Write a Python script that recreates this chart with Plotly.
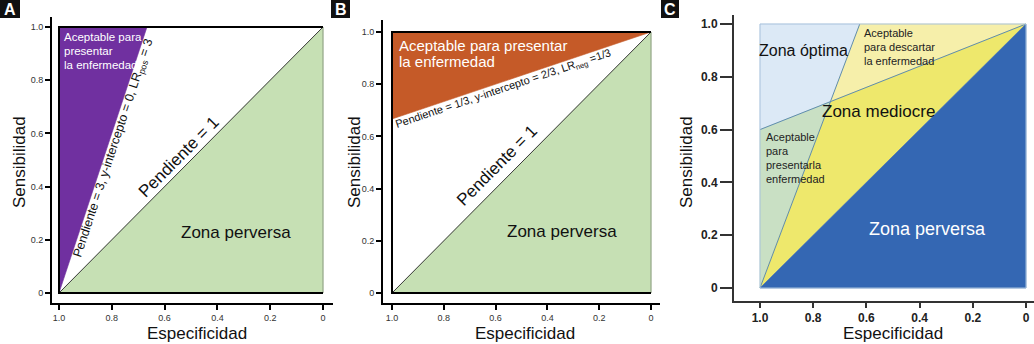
import plotly.graph_objects as go

W, H = 1034, 344
FONT = "Liberation Sans, Arial, sans-serif"

# ---------------- data ----------------
spec_ticks = [1.0, 0.8, 0.6, 0.4, 0.2, 0.0]
spec_tick_text = ["1.0", "0.8", "0.6", "0.4", "0.2", "0"]
sens_ticks = [0.0, 0.2, 0.4, 0.6, 0.8, 1.0]
sens_tick_text = ["0", "0.2", "0.4", "0.6", "0.8", "1.0"]

# diagonal (pendiente = 1) and lower "zona perversa"
diag_spec = [1.0, 0.0]
diag_sens = [0.0, 1.0]
perversa_spec = [1.0, 0.0, 0.0]
perversa_sens = [0.0, 0.0, 1.0]
box_spec = [0.0, 1.0, 1.0, 0.0]
box_sens = [1.0, 1.0, 0.0, 0.0]

# Panel A: LR+ = 3 region
a_accept_spec = [1.0, 1.0, 2 / 3]
a_accept_sens = [0.0, 1.0, 1.0]

# Panel B: LR- = 1/3 region
b_accept_spec = [1.0, 1.0, 0.0]
b_accept_sens = [2 / 3, 1.0, 1.0]

# Panel C zones
c_opt_spec = [1.0, 1.0, 0.625, 0.735]
c_opt_sens = [0.6, 1.0, 1.0, 0.706]
c_desc_spec = [0.735, 0.625, 0.0]
c_desc_sens = [0.706, 1.0, 1.0]
c_pres_spec = [1.0, 1.0, 0.735]
c_pres_sens = [0.0, 0.6, 0.706]
c_med_spec = [1.0, 0.735, 0.0]
c_med_sens = [0.0, 0.706, 1.0]
c_steep_spec = [1.0, 0.625]
c_steep_sens = [0.0, 1.0]
c_flat_spec = [1.0, 0.0]
c_flat_sens = [0.6, 1.0]

# ---------------- helpers ----------------
def px(x):
    return x / W

def py(y):
    return 1 - y / H

fig = go.Figure()

def poly(xs, ys, color, ax):
    fig.add_trace(go.Scatter(
        x=xs + [xs[0]], y=ys + [ys[0]], mode="lines", fill="toself",
        fillcolor=color, line=dict(color=color, width=0.6),
        xaxis=ax[0], yaxis=ax[1], hoverinfo="skip", showlegend=False))

def line(xs, ys, color, width, ax):
    fig.add_trace(go.Scatter(
        x=xs, y=ys, mode="lines", line=dict(color=color, width=width),
        xaxis=ax[0], yaxis=ax[1], hoverinfo="skip", showlegend=False))

AX_A = ("x", "y")
AX_B = ("x2", "y2")
AX_C = ("x3", "y3")

GREEN = "#c6e0b4"
# Panel A
poly(perversa_spec, perversa_sens, GREEN, AX_A)
poly(a_accept_spec, a_accept_sens, "#7030a0", AX_A)
line(diag_spec, diag_sens, "#3a3a3a", 1, AX_A)
line([0.0, 0.0], [0.0, 1.0], "#8a9a80", 1, AX_A)
line(box_spec, box_sens, "#000000", 2, AX_A)

# Panel B
poly(perversa_spec, perversa_sens, GREEN, AX_B)
poly(b_accept_spec, b_accept_sens, "#c55a28", AX_B)
line(diag_spec, diag_sens, "#3a3a3a", 1, AX_B)
line([0.0, 0.0], [0.0, 1.0], "#8a9a80", 1, AX_B)
line(box_spec, box_sens, "#000000", 2, AX_B)

# Panel C
poly(c_opt_spec, c_opt_sens, "#dce9f6", AX_C)
poly(c_desc_spec, c_desc_sens, "#f6efaa", AX_C)
poly(c_pres_spec, c_pres_sens, "#c9e0c4", AX_C)
poly(c_med_spec, c_med_sens, "#eee86c", AX_C)
poly(perversa_spec, perversa_sens, "#3467b3", AX_C)
line(c_steep_spec, c_steep_sens, "#5e8cb0", 1, AX_C)
line(c_flat_spec, c_flat_sens, "#5e8cb0", 1, AX_C)
line(box_spec + [0.0], box_sens + [1.0], "#a8c2dc", 1, AX_C)

# ---------------- axes ----------------
def xax(dom_px, rng, tickfont, ticklen, anchor, lcolor):
    return dict(domain=[px(dom_px[0]), min(1.0, px(dom_px[1]))], range=rng, anchor=anchor,
                tickvals=spec_ticks, ticktext=spec_tick_text, ticks="outside",
                ticklen=ticklen, tickwidth=1.5, tickcolor=lcolor,
                showline=True, linecolor=lcolor, linewidth=2,
                showgrid=False, zeroline=False, tickfont=tickfont, fixedrange=True)

def yax(dom_px, rng, tickfont, ticklen, anchor, lcolor):
    return dict(domain=[py(dom_px[1]), py(dom_px[0])], range=rng, anchor=anchor,
                tickvals=sens_ticks, ticktext=sens_tick_text, ticks="outside",
                ticklen=ticklen, tickwidth=1.5, tickcolor=lcolor,
                showline=True, linecolor=lcolor, linewidth=2,
                showgrid=False, zeroline=False, tickfont=tickfont, fixedrange=True)

small = dict(family=FONT, size=9, color="#333333")
bold = dict(family=FONT, size=12, color="#222222", weight="bold")

layout_axes = dict(
    xaxis=xax((52, 333), [1 + 7 / 264, -10 / 264], small, 5, "y", "#000000"),
    yaxis=yax((17, 303), [-10 / 266, 1 + 10 / 266], small, 5, "x", "#000000"),
    xaxis2=xax((383, 660), [1 + 9 / 259, -9 / 259], small, 5, "y2", "#000000"),
    yaxis2=yax((20, 303), [-10 / 261, 1 + 12 / 261], small, 5, "x2", "#000000"),
    xaxis3=xax((734, 1034), [1 + 26 / 266, -8 / 266], bold, 5, "y3", "#333333"),
    yaxis3=yax((15, 301), [-13 / 264, 1 + 9 / 264], bold, 12, "x3", "#333333"),
)

ann = []

def text(x, y, s, size, color, ax=None, angle=0, xanchor="center", yanchor="middle"):
    d = dict(x=x, y=y, text=s, showarrow=False, textangle=angle,
             xanchor=xanchor, yanchor=yanchor,
             font=dict(family=FONT, size=size, color=color))
    if ax is None:
        d.update(xref="paper", yref="paper")
    else:
        d.update(xref=ax[0], yref=ax[1])
    ann.append(d)

# axis titles
for cx in (197, 525, 893):
    text(px(cx), py(333), "Especificidad", 17, "#111111")
for cx in (20, 355, 687):
    text(px(cx), py(162), "Sensibilidad", 17, "#111111", angle=-90)

# Panel A text
text(0.792, 0.545, "Pendiente = 3, y-intercepto = 0, LR<sub>pos</sub> = 3", 12.5, "#111111", AX_A, angle=-71.7)
text(0.549, 0.511, "Pendiente = 1", 17, "#111111", AX_A, angle=-45.2)
text(0.330, 0.226, "Zona perversa", 17, "#111111", AX_A)
for s, yy in (("Aceptable para", 37), ("presentar", 51), ("la enfermedad", 65)):
    text(px(62), py(yy), s, 11.5, "#ffffff", xanchor="left")

# Panel B text
text(0.570, 0.782, "Pendiente = 1/3, y-intercepto = 2/3, LR<sub>neg</sub> =1/3", 11, "#111111", AX_B, angle=-18.6)
text(0.595, 0.490, "Pendiente = 1", 17, "#111111", AX_B, angle=-45.2)
text(0.344, 0.234, "Zona perversa", 17, "#111111", AX_B)
for s, yy in (("Aceptable para presentar", 45), ("la enfermedad", 62)):
    text(px(397), py(yy), s, 15, "#ffffff", xanchor="left")

# Panel C text
text(0.838, 0.90, "Zona óptima", 16, "#111111", AX_C)
text(0.553, 0.670, "Zona mediocre", 17, "#111111", AX_C)
text(0.372, 0.223, "Zona perversa", 18, "#ffffff", AX_C)
for s, yy in (("Aceptable", 33), ("para descartar", 47), ("la enfermedad", 61)):
    text(px(862), py(yy), s, 11, "#222222", xanchor="left")
for s, yy in (("Aceptable", 137), ("para", 151), ("presentarla", 165), ("enfermedad", 179)):
    text(px(764), py(yy), s, 11, "#222222", xanchor="left")

# panel letters
shapes = []
for x0, x1, letter in ((0, 20, "A"), (331, 350, "B"), (661, 679, "C")):
    shapes.append(dict(type="rect", xref="paper", yref="paper",
                       x0=px(x0), x1=px(x1), y0=py(18), y1=py(0),
                       fillcolor="#111111", line=dict(width=0), layer="above"))
    ann.append(dict(x=px((x0 + x1) / 2), y=py(9), xref="paper", yref="paper",
                    text="<b>%s</b>" % letter, showarrow=False,
                    xanchor="center", yanchor="middle",
                    font=dict(family=FONT, size=16, color="#ffffff")))

fig.update_layout(
    width=W, height=H, margin=dict(l=0, r=0, t=0, b=0),
    paper_bgcolor="#ffffff", plot_bgcolor="rgba(0,0,0,0)",
    showlegend=False, annotations=ann, shapes=shapes, **layout_axes)

fig.write_html(
    "out.html", config={"displayModeBar": False},
    post_script="document.body.style.margin='0px';document.body.style.overflow='hidden';")
